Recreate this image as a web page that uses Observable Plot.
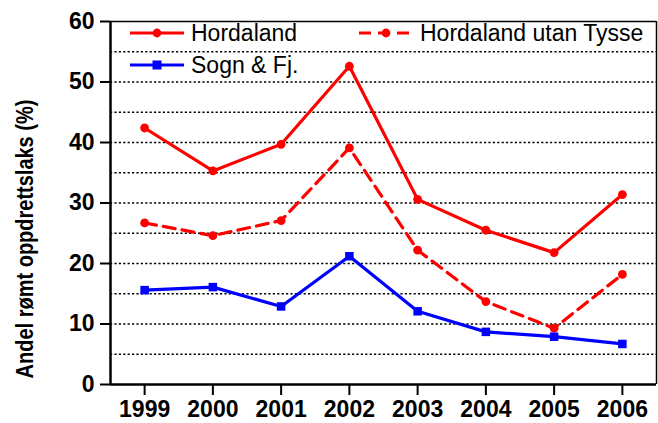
<!DOCTYPE html>
<html><head><meta charset="utf-8">
<script src="https://cdn.jsdelivr.net/npm/d3@7"></script>
<script src="https://cdn.jsdelivr.net/npm/@observablehq/plot@0.6"></script>
<style>body{margin:0;background:#fff;} svg{display:block;}</style>
</head><body>
<div id="chart"></div>
<script>
const years = [1999, 2000, 2001, 2002, 2003, 2004, 2005, 2006];
const hordaland = [42.4, 35.3, 39.7, 52.6, 30.6, 25.5, 21.8, 31.4];
const hordalandUtanTysse = [26.7, 24.6, 27.1, 39.1, 22.2, 13.7, 9.3, 18.2];
const sognFj = [15.6, 16.1, 12.9, 21.2, 12.1, 8.7, 7.9, 6.7];
const yTicks = [0, 10, 20, 30, 40, 50, 60];
const gridLines = [5, 10, 15, 20, 25, 30, 35, 40, 45, 50, 55];
const seriesNames = ["Hordaland", "Hordaland utan Tysse", "Sogn & Fj."];
const yLabel = "Andel rømt oppdrettslaks (%)";

const rows = (vals) => years.map((y, i) => ({year: y, value: vals[i]}));
const h = rows(hordaland), ht = rows(hordalandUtanTysse), s = rows(sognFj);
const font = "'Liberation Sans', Arial, sans-serif";

const chart = Plot.plot({
  width: 658, height: 423,
  marginLeft: 110, marginRight: 2, marginTop: 21, marginBottom: 39,
  style: {fontFamily: font, background: "#fff"},
  x: {domain: [1998.5, 2006.5], ticks: years, tickFormat: "d", label: null},
  y: {domain: [0, 60], ticks: yTicks, label: null},
  marks: [
    Plot.ruleY(gridLines, {stroke: "#000", strokeWidth: 1.6, strokeDasharray: "2.2,2.2"}),
    Plot.ruleY([60], {stroke: "#000", strokeWidth: 1.5}),
    Plot.ruleX([2006.5], {stroke: "#000", strokeWidth: 1.5}),
    Plot.ruleX([1998.5], {stroke: "#000", strokeWidth: 2.5}),
    Plot.ruleY([0], {stroke: "#000", strokeWidth: 2.5}),
    Plot.line(h, {x: "year", y: "value", stroke: "#ff0000", strokeWidth: 3.2}),
    Plot.dot(h, {x: "year", y: "value", fill: "#ff0000", r: 4.4}),
    Plot.line(ht, {x: "year", y: "value", stroke: "#ff0000", strokeWidth: 3.2, strokeDasharray: "12,7"}),
    Plot.dot(ht, {x: "year", y: "value", fill: "#ff0000", r: 4.4}),
    Plot.line(s, {x: "year", y: "value", stroke: "#0000ff", strokeWidth: 3.2}),
    Plot.dot(s, {x: "year", y: "value", fill: "#0000ff", symbol: "square", r: 4.8}),
    Plot.axisX({ticks: years, tickFormat: "d", tickSize: 11, tickPadding: 5, fontSize: 23, fontWeight: "bold", strokeWidth: 2, label: null}),
    Plot.axisY({ticks: yTicks, tickSize: 10, tickPadding: 6, fontSize: 23, fontWeight: "bold", strokeWidth: 2, label: null})
  ]
});
document.getElementById("chart").appendChild(chart);

const svg = d3.select(chart);
svg.selectAll("g[aria-label='x-axis tick label'], g[aria-label='y-axis tick label']")
  .attr("font-size", 23).attr("font-weight", "bold").style("font-size", "23px").style("font-weight", "bold");
svg.selectAll("g[aria-label='x-axis tick label'] text, g[aria-label='y-axis tick label'] text").attr("fill", "#000");
// y-axis title
svg.append("text")
  .attr("transform", "translate(33,239) rotate(-90) scale(1,1.2)")
  .attr("text-anchor", "middle")
  .attr("font-family", font).attr("font-weight", "bold")
  .style("font-size", "20px")
  .attr("fill", "#000")
  .text(yLabel);

// legend
const legend = [
  {name: seriesNames[0], color: "#ff0000", dash: null, sym: "circle", x: 130, y: 33},
  {name: seriesNames[1], color: "#ff0000", dash: "12,7", sym: "circle", x: 359, y: 33},
  {name: seriesNames[2], color: "#0000ff", dash: null, sym: "square", x: 130, y: 65}
];
const lg = svg.append("g");
legend.forEach(d => {
  lg.append("line").attr("x1", d.x).attr("x2", d.x + 54).attr("y1", d.y).attr("y2", d.y)
    .attr("stroke", d.color).attr("stroke-width", 3.2).attr("stroke-dasharray", d.dash);
  if (d.sym === "circle") lg.append("circle").attr("cx", d.x + 27).attr("cy", d.y).attr("r", 4.4).attr("fill", d.color);
  else lg.append("rect").attr("x", d.x + 22.5).attr("y", d.y - 4.5).attr("width", 9).attr("height", 9).attr("fill", d.color);
  lg.append("text").attr("x", d.x + 61).attr("y", d.y).attr("dy", "0.36em")
    .attr("text-anchor", "start")
    .attr("font-family", font).style("font-size", "23px").attr("fill", "#000").text(d.name);
});
</script>
</body></html>
